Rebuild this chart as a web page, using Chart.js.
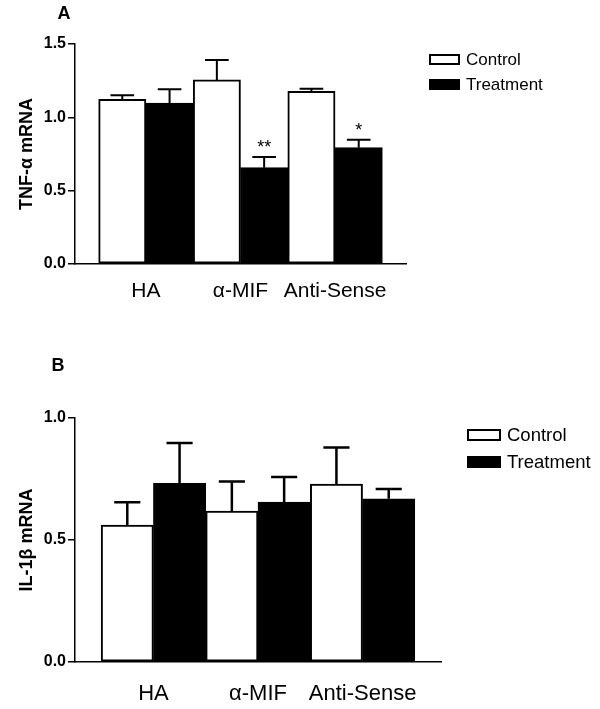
<!DOCTYPE html>
<html lang="en">
<head>
<meta charset="UTF-8">
<title>TNF-α and IL-1β mRNA</title>
<script src="https://cdn.jsdelivr.net/npm/chart.js@4.4.0/dist/chart.umd.min.js"></script>
<style>
    body { margin: 0; background: #fff; }
    .panel { position: absolute; left: 0; width: 600px; }
    #panelA { top: 0; height: 320px; }
    #panelB { top: 350px; height: 359px; }
</style>
</head>
<body>
<div class="panel" id="panelA"><canvas id="chartA" width="600" height="320"></canvas></div>
<div class="panel" id="panelB"><canvas id="chartB" width="600" height="359"></canvas></div>
<script>
// groups and series
const groups = ['HA', 'α-MIF', 'Anti-Sense'];
const seriesNames = ['Control', 'Treatment'];

// panel A - TNF-α mRNA
const tnfControl = [1.123, 1.255, 1.177];
const tnfControlErr = [0.027, 0.136, 0.018];
const tnfTreatment = [1.098, 0.657, 0.793];
const tnfTreatmentErr = [0.093, 0.073, 0.055];
const tnfStars = ['', '**', '*'];
const tnfTicks = [0, 0.5, 1.0, 1.5];

// panel B - IL-1β mRNA
const ilControl = [0.561, 0.619, 0.729];
const ilControlErr = [0.094, 0.121, 0.15];
const ilTreatment = [0.732, 0.655, 0.669];
const ilTreatmentErr = [0.166, 0.103, 0.04];
const ilTicks = [0, 0.5, 1.0];

const FONT = "'Liberation Sans', Arial, sans-serif";

// error bars, stars, legend and panel letter
const panelDeco = {
    id: 'panelDeco',
    afterDatasetsDraw(chart, args, opts) {
        const ctx = chart.ctx;
        const yScale = chart.scales.y;
        ctx.save();
        ctx.strokeStyle = '#000';
        ctx.lineWidth = opts.errWidth;
        chart.data.datasets.forEach((ds, di) => {
            const meta = chart.getDatasetMeta(di);
            meta.data.forEach((bar, i) => {
                const top = yScale.getPixelForValue(ds.data[i].y + ds.errors[i]);
                const half = bar.width / 4;
                ctx.beginPath();
                ctx.moveTo(bar.x, bar.y);
                ctx.lineTo(bar.x, top);
                ctx.moveTo(bar.x - half, top);
                ctx.lineTo(bar.x + half, top);
                ctx.stroke();
                if (ds.stars && ds.stars[i]) {
                    ctx.fillStyle = '#000';
                    ctx.font = '18px ' + FONT;
                    ctx.textAlign = 'center';
                    ctx.textBaseline = 'alphabetic';
                    ctx.fillText(ds.stars[i], bar.x, top - 4);
                }
            });
        });
        ctx.restore();
    },
    afterDraw(chart, args, opts) {
        const ctx = chart.ctx;
        ctx.save();
        // panel letter
        ctx.fillStyle = '#000';
        ctx.font = 'bold 18px ' + FONT;
        ctx.textAlign = 'center';
        ctx.textBaseline = 'middle';
        ctx.fillText(opts.letter, opts.letterX, opts.letterY);
        // legend
        const lg = opts.legend;
        ctx.font = lg.size + 'px ' + FONT;
        ctx.textAlign = 'left';
        seriesNames.forEach((name, i) => {
            const by = lg.y[i];
            if (i === 0) {
                ctx.fillStyle = '#fff';
                ctx.fillRect(lg.x, by, lg.w, lg.h);
                ctx.strokeStyle = '#000';
                ctx.lineWidth = 2;
                ctx.strokeRect(lg.x + 1, by + 1, lg.w - 2, lg.h - 2);
            } else {
                ctx.fillStyle = '#000';
                ctx.fillRect(lg.x, by, lg.w, lg.h);
            }
            ctx.fillStyle = '#000';
            ctx.fillText(name, lg.x + lg.w + 6, by + lg.h / 2 + 1);
        });
        ctx.restore();
    }
};

function makeChart(id, p) {
    const toPoints = (vals, off) => vals.map((v, i) => ({ x: 2 * i + off, y: v }));
    return new Chart(document.getElementById(id), {
        type: 'bar',
        data: {
            datasets: [
                {
                    label: seriesNames[0],
                    data: toPoints(p.control, 1),
                    errors: p.controlErr,
                    backgroundColor: '#fff',
                    borderColor: '#000',
                    borderWidth: 2,
                    borderSkipped: false,
                    grouped: false,
                    barPercentage: 1,
                    categoryPercentage: 1
                },
                {
                    label: seriesNames[1],
                    data: toPoints(p.treatment, 2),
                    errors: p.treatmentErr,
                    stars: p.stars,
                    backgroundColor: '#000',
                    borderColor: '#000',
                    borderWidth: 2,
                    borderSkipped: false,
                    grouped: false,
                    barPercentage: 1,
                    categoryPercentage: 1
                }
            ]
        },
        options: {
            responsive: false,
            animation: false,
            events: [],
            layout: { padding: { left: 0, top: p.top, right: p.right, bottom: 0 } },
            plugins: {
                legend: { display: false },
                tooltip: { enabled: false },
                panelDeco: p.deco
            },
            scales: {
                x: {
                    type: 'linear',
                    min: 0,
                    max: 7,
                    offset: false,
                    afterBuildTicks: (scale) => {
                        scale.ticks = groups.map((g, i) => ({ value: 2 * i + 1.5 }));
                    },
                    afterFit: (scale) => { scale.height = p.xHeight; },
                    ticks: {
                        autoSkip: false,
                        maxRotation: 0,
                        padding: p.xPad,
                        color: '#000',
                        font: { family: FONT, size: p.xFont },
                        callback: (v, i) => groups[i]
                    },
                    grid: { display: false, offset: false },
                    border: { display: true, color: '#000', width: 1.5 }
                },
                y: {
                    min: 0,
                    max: p.ticks[p.ticks.length - 1],
                    afterBuildTicks: (scale) => {
                        scale.ticks = p.ticks.map(v => ({ value: v }));
                    },
                    afterFit: (scale) => { scale.width = 75; },
                    ticks: {
                        padding: 2,
                        color: '#000',
                        font: { family: FONT, size: 16, weight: 'bold' },
                        callback: (v) => v.toFixed(1)
                    },
                    grid: { drawOnChartArea: false, drawTicks: true, tickLength: 7, color: '#000', lineWidth: 1.5 },
                    border: { display: true, color: '#000', width: 1.5 },
                    title: {
                        display: true,
                        text: p.yTitle,
                        color: '#000',
                        font: { family: FONT, size: 18, weight: 'bold' },
                        padding: { top: 16, bottom: 0 }
                    }
                }
            }
        },
        plugins: [panelDeco]
    });
}

makeChart('chartA', {
    control: tnfControl, controlErr: tnfControlErr,
    treatment: tnfTreatment, treatmentErr: tnfTreatmentErr,
    stars: tnfStars, ticks: tnfTicks, yTitle: 'TNF-α mRNA',
    top: 44, right: 194, xHeight: 56, xPad: 7, xFont: 21,
    deco: {
        letter: 'A', letterX: 64, letterY: 14, errWidth: 2,
        legend: { x: 429, y: [54, 79], w: 31, h: 11, size: 17 }
    }
});

makeChart('chartB', {
    control: ilControl, controlErr: ilControlErr,
    treatment: ilTreatment, treatmentErr: ilTreatmentErr,
    stars: null, ticks: ilTicks, yTitle: 'IL-1β mRNA',
    top: 68, right: 159, xHeight: 47, xPad: 11, xFont: 22,
    deco: {
        letter: 'B', letterX: 58, letterY: 16, errWidth: 2.5,
        legend: { x: 467, y: [79, 106], w: 34, h: 12, size: 18.5 }
    }
});
</script>
</body>
</html>
